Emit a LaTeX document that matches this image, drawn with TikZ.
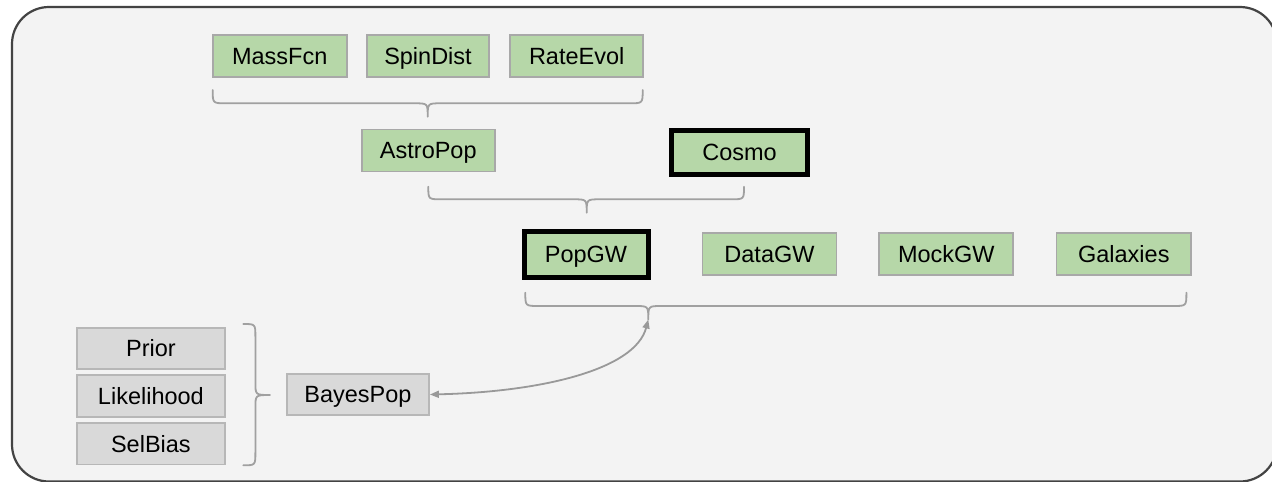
\documentclass[tikz,border=0pt]{standalone}
\usepackage{fontspec}
\setmainfont{Liberation Sans}
\usetikzlibrary{arrows.meta}
\definecolor{bg}{HTML}{F3F3F3}
\definecolor{frame}{HTML}{434343}
\definecolor{gfill}{HTML}{B6D7A8}
\definecolor{gborder}{HTML}{A8A8A8}
\definecolor{kfill}{HTML}{D9D9D9}
\definecolor{kborder}{HTML}{B7B7B7}
\definecolor{brace}{HTML}{A0A0A0}
\definecolor{arrowc}{HTML}{999999}
\newcommand\boxfont{\fontsize{23.5}{28}\selectfont}
\tikzset{
  box/.style={rectangle, inner sep=0pt, font=\boxfont, text=black,
    text height=16.8pt, text depth=0pt, minimum height=42pt},
  greenbox/.style={box, fill=gfill, draw=gborder, line width=1.8pt},
  boldbox/.style={box, fill=gfill, draw=black, line width=5pt},
  greybox/.style={box, fill=kfill, draw=kborder, line width=1.8pt},
  bracepath/.style={draw=brace, line width=1.8pt, line cap=round, line join=round},
  arr/.style={draw=arrowc, line width=1.8pt, {Triangle[length=9pt,width=7pt]}-{Triangle[length=9pt,width=7pt]}}
}
\begin{document}
\begin{tikzpicture}[x=1pt,y=-1pt]
\useasboundingbox (0,0) rectangle (1272,482);
\clip (0,0) rectangle (1272,482);
\fill[white] (0,0) rectangle (1272,482);
\draw[frame, fill=bg, line width=2.2pt, rounded corners=37pt] (12,7) rectangle (1277,481.5);

% top row
\node[greenbox, minimum width=134pt] (mass) at (279.7,56.2) {MassFcn};
\node[greenbox, minimum width=122.6pt] (spin) at (428,56.2) {SpinDist};
\node[greenbox, minimum width=133.3pt] (rate) at (576.7,56.2) {RateEvol};
\node[greenbox, minimum width=133.3pt] (astro) at (428.3,150.5) {AstroPop};
\node[boldbox, minimum width=136pt, minimum height=44pt] (cosmo) at (739.5,152) {Cosmo};

% GW row
\node[boldbox, minimum width=124pt, minimum height=45.5pt] (popgw) at (586,254.3) {PopGW};
\node[greenbox, minimum width=134pt] (datagw) at (769.5,254.2) {DataGW};
\node[greenbox, minimum width=134pt] (mockgw) at (946.3,254.2) {MockGW};
\node[greenbox, minimum width=134.5pt] (gal) at (1123.8,254.2) {Galaxies};

% Bayes
\node[greybox, minimum width=147.4pt, minimum height=41.3pt] (prior) at (150.9,348.4) {Prior};
\node[greybox, minimum width=147.4pt, minimum height=41.3pt] (like) at (150.9,396) {Likelihood};
\node[greybox, minimum width=147.4pt, minimum height=41.3pt] (sel) at (150.9,443.8) {SelBias};
\node[greybox, minimum width=142pt, minimum height=41pt] (bayes) at (358,394.5) {BayesPop};

% braces
\coordinate (tip1) at (427.7,116.7);
\coordinate (tip2) at (586.7,212.7);
\coordinate (tip3) at (648.3,319.5);
\coordinate (tip4) at (270,395);

\path[bracepath] (212.7,90) .. controls (212.7,103.3) .. (226,103.3) -- (414.5,103.3)
  .. controls (427.7,103.3) .. (tip1) .. controls (427.7,103.3) .. (441,103.3)
  -- (629.5,103.3) .. controls (642.7,103.3) .. (642.7,90);

\path[bracepath] (428.3,186.7) .. controls (428.3,199.3) .. (441.5,199.3) -- (573.5,199.3)
  .. controls (586.7,199.3) .. (tip2) .. controls (586.7,199.3) .. (600,199.3)
  -- (731,199.3) .. controls (744,199.3) .. (744,186.7);

\path[bracepath] (525.3,292.7) .. controls (525.3,306) .. (538.5,306) -- (635,306)
  .. controls (648.3,306) .. (tip3) .. controls (648.3,306) .. (661.5,306)
  -- (1173,306) .. controls (1186.4,306) .. (1186.4,292.7);

\path[bracepath] (243.3,324) .. controls (255.4,324) .. (255.4,337) -- (255.4,382)
  .. controls (255.4,395) .. (tip4) .. controls (255.4,395) .. (255.4,408)
  -- (255.4,452) .. controls (255.4,465.3) .. (243.3,465.3);

% arrow
\draw[arr] (bayes.east) .. controls (540,392) and (635,370) .. (tip3);
\end{tikzpicture}
\end{document}
